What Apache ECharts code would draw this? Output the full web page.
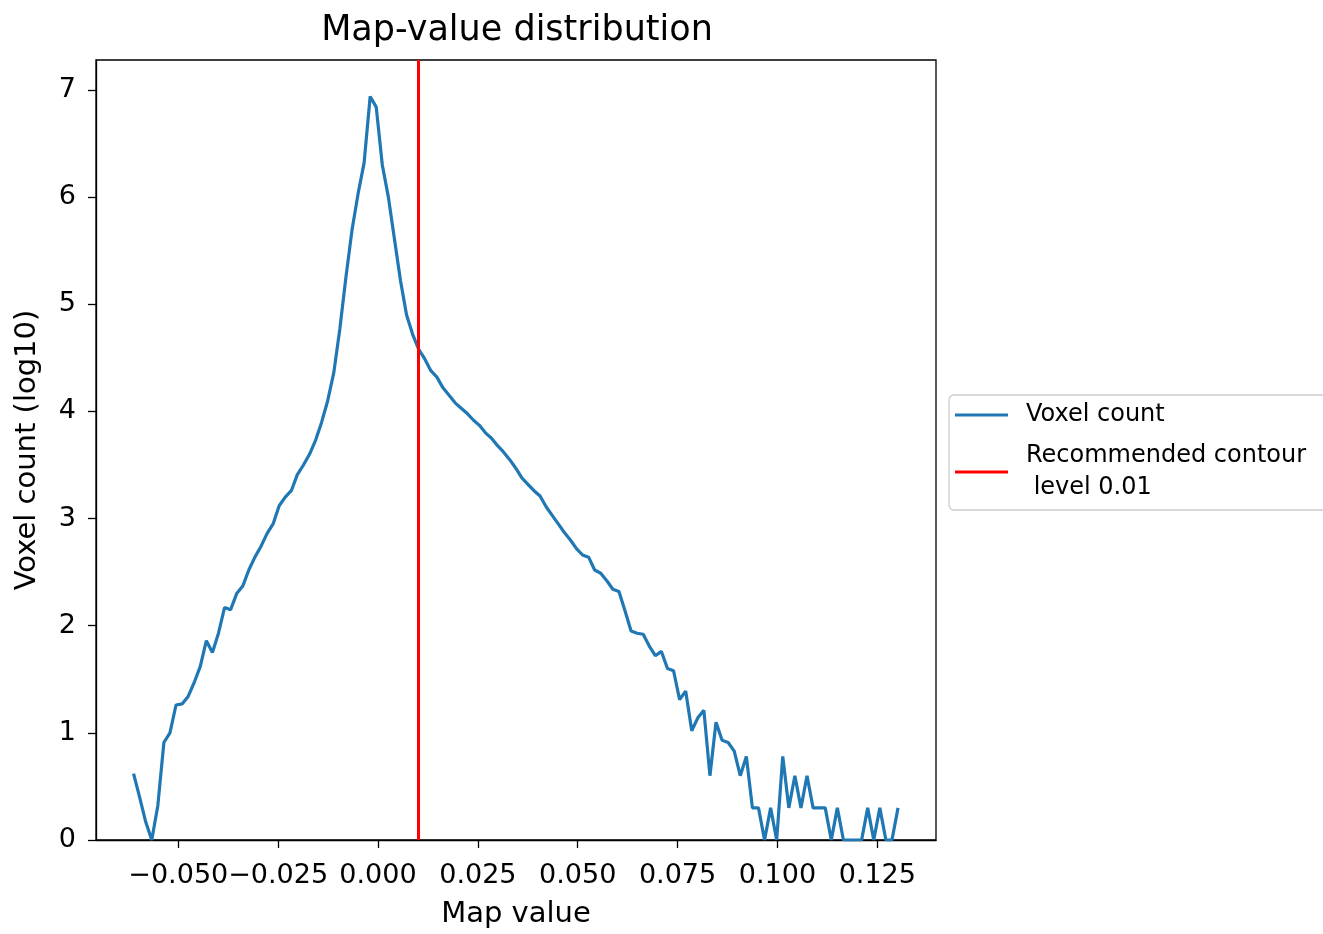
<!DOCTYPE html>
<html>
<head>
<meta charset="utf-8">
<script src="https://cdn.jsdelivr.net/npm/echarts@6/dist/echarts.min.js"></script>
<style>html,body{margin:0;padding:0;background:#fff;}#chart{width:1323px;height:934px;}</style>
</head>
<body>
<div id="chart"></div>
<script>
// Histogram bin grid (bin centres)
const binStart = -0.0612;
const binWidth = 0.001519;
// log10 voxel counts per bin
const voxelLog = [
  0.62, 0.40, 0.17, 0.00, 0.32, 0.91, 1.00, 1.26, 1.27, 1.34,
  1.47, 1.62, 1.86, 1.75, 1.93, 2.17, 2.15, 2.30, 2.37, 2.52,
  2.64, 2.74, 2.86, 2.95, 3.12, 3.20, 3.26, 3.41, 3.50, 3.60,
  3.73, 3.90, 4.10, 4.36, 4.77, 5.25, 5.69, 6.03, 6.32, 6.94,
  6.84, 6.30, 6.00, 5.61, 5.22, 4.90, 4.72, 4.58, 4.49, 4.38,
  4.32, 4.22, 4.15, 4.08, 4.03, 3.98, 3.92, 3.87, 3.80, 3.75,
  3.68, 3.62, 3.55, 3.47, 3.38, 3.32, 3.26, 3.21, 3.11, 3.03,
  2.95, 2.87, 2.80, 2.72, 2.66, 2.64, 2.52, 2.49, 2.42, 2.34,
  2.32, 2.14, 1.95, 1.93, 1.92, 1.81, 1.72, 1.76, 1.60, 1.58,
  1.31, 1.39, 1.02, 1.14, 1.21, 0.60, 1.10, 0.93, 0.91, 0.83,
  0.60, 0.78, 0.30, 0.30, 0.00, 0.30, 0.00, 0.78, 0.30, 0.60,
  0.30, 0.60, 0.30, 0.30, 0.30, 0.00, 0.30, 0.00, 0.00, 0.00,
  0.00, 0.30, 0.00, 0.30, 0.00, 0.00, 0.30
];
const contourLevel = 0.01;
const xTicks = [-0.05, -0.025, 0, 0.025, 0.05, 0.075, 0.1, 0.125];
const yTicks = [0, 1, 2, 3, 4, 5, 6, 7];
const titleText = 'Map-value distribution';
const xLabel = 'Map value';
const yLabel = 'Voxel count (log10)';
const seriesNames = ['Voxel count', 'Recommended contour\n level 0.01'];

const voxelData = voxelLog.map((v, i) => [binStart + i * binWidth, v]);
const FONT = 'DejaVu Sans';
const fmtX = v => { const s = Math.abs(v).toFixed(3); return (v < -1e-12 ? '\u2212' : '') + s; };

const chart = echarts.init(document.getElementById('chart'), null, {renderer: 'canvas'});
chart.setOption({
  animation: false,
  backgroundColor: '#ffffff',
  title: {
    text: titleText, left: 512, top: 8, textAlign: 'center',
    textStyle: {fontFamily: FONT, fontSize: 35, fontWeight: 'normal', color: '#000'}
  },
  grid: {left: 96, right: 387, top: 60, bottom: 89, show: true, borderColor: '#000', borderWidth: 1.3, containLabel: false},
  legend: {
    orient: 'vertical', left: 949, top: 395,
    icon: 'rect', itemWidth: 53, itemHeight: 3, itemGap: 9,
    padding: [4, 40, 6, 6],
    borderColor: '#cccccc', borderWidth: 1.3, borderRadius: 5,
    backgroundColor: 'rgba(255,255,255,0.8)',
    textStyle: {fontFamily: FONT, fontSize: 24, lineHeight: 32, color: '#000', padding: [0, 0, 0, 13]},
    data: seriesNames
  },
  xAxis: {
    type: 'value', min: -0.0706, max: 0.1397,
    splitLine: {show: false},
    axisLine: {show: true, onZero: false, lineStyle: {color: '#000', width: 1.3}},
    axisTick: {show: true, length: 8, customValues: xTicks, lineStyle: {color: '#000', width: 1.3}},
    axisLabel: {customValues: xTicks, formatter: fmtX, fontFamily: FONT, fontSize: 27, color: '#000', margin: 22, hideOverlap: false},
    name: xLabel, nameLocation: 'middle', nameGap: 60,
    nameTextStyle: {fontFamily: FONT, fontSize: 29, color: '#000'}
  },
  yAxis: {
    type: 'value', min: 0, max: 7.28,
    splitLine: {show: false},
    axisLine: {show: true, onZero: false, lineStyle: {color: '#000', width: 1.3}},
    axisTick: {show: true, length: 8, customValues: yTicks, lineStyle: {color: '#000', width: 1.3}},
    axisLabel: {customValues: yTicks, fontFamily: FONT, fontSize: 27, color: '#000', margin: 20},
    name: yLabel, nameLocation: 'middle', nameGap: 54, nameRotate: 90,
    nameTextStyle: {fontFamily: FONT, fontSize: 29, color: '#000'}
  },
  series: [
    {
      name: seriesNames[0], type: 'line', data: voxelData, showSymbol: false,
      color: '#1f77b4', lineStyle: {color: '#1f77b4', width: 3.2}, z: 3
    },
    {
      name: seriesNames[1], type: 'line', data: [], color: '#ff0000',
      lineStyle: {color: '#ff0000', width: 3},
      markLine: {
        silent: true, symbol: 'none', label: {show: false},
        lineStyle: {color: '#ff0000', width: 3, type: 'solid'},
        emphasis: {disabled: true},
        data: [{xAxis: contourLevel}]
      },
      z: 4
    }
  ]
});
</script>
</body>
</html>
